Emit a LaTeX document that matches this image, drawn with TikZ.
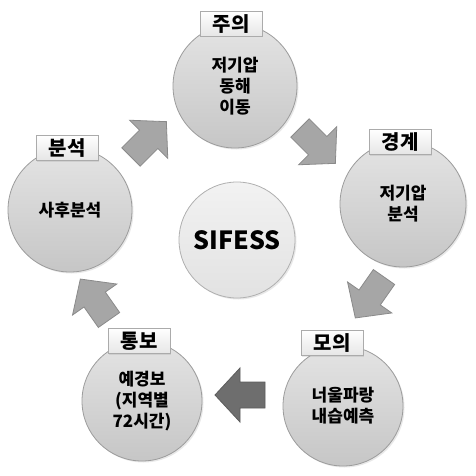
\documentclass[tikz,border=0pt]{standalone}
\usepackage{fontspec}
\newfontfamily\kr{Noto Sans CJK KR}
\usetikzlibrary{shadows}
\definecolor{circborder}{HTML}{9C9C9C}
\definecolor{circtop}{HTML}{E4E4E4}
\definecolor{circbot}{HTML}{C6C6C6}
\definecolor{midtop}{HTML}{F2F2F2}
\definecolor{midbot}{HTML}{E2E2E2}
\definecolor{labborder}{HTML}{ABABAB}
\definecolor{labbot}{HTML}{E6E6E6}
\definecolor{arrfill}{HTML}{A6A6A6}
\definecolor{arrdraw}{HTML}{8A8A8A}
\definecolor{darkfill}{HTML}{6E6E6E}
\definecolor{darkdraw}{HTML}{5C5C5C}
\begin{document}
\begin{tikzpicture}[x=1pt,y=-1pt,
  circ/.style={circle, draw=circborder, line width=0.8pt, top color=circtop, bottom color=circbot,
    minimum size=#1, inner sep=0pt, align=center,
    font=\kr\bfseries\fontsize{17}{21}\selectfont,
    drop shadow={opacity=0.18, shadow xshift=1.5pt, shadow yshift=-1.5pt}},
  midcirc/.style={circ=#1, draw=circborder!80, top color=midtop, bottom color=midbot,
    font=\kr\bfseries\fontsize{25}{30}\selectfont},
  lab/.style={rectangle, draw=labborder, line width=0.6pt, top color=white, bottom color=labbot,
    minimum width=62pt, minimum height=25pt, inner sep=0pt,
    font=\kr\bfseries\fontsize{20}{24}\selectfont,
    drop shadow={opacity=0.18, shadow xshift=1pt, shadow yshift=-1pt}},
  blockarrow/.style={fill=arrfill, draw=arrdraw, line width=0.8pt, line join=miter},
  darkarrow/.style={fill=darkfill, draw=darkdraw, line width=0.8pt, line join=miter}
]
\useasboundingbox[fill=white] (0,0) rectangle (475,476);

% circles
\node[circ=124pt] (jui) at (235,86) {저기압\\동해\\이동};
\node[circ=126pt] (gyeong) at (403,204) {저기압\\분석};
\node[circ=120pt] (moui) at (343,406) {너울파랑\\내습예측};
\node[circ=120pt] (tongbo) at (142,401) {예경보\\(지역별\\72시간)};
\node[circ=124pt] (bunseok) at (70,210) {사후분석};
\node[midcirc=116pt] (sifess) at (237,240) {SIFESS};

% labels
\node[lab] (ljui) at (231,24) {주의};
\node[lab] (lgyeong) at (400,142) {경계};
\node[lab] (lmoui) at (332,343) {모의};
\node[lab] (ltongbo) at (139,341) {통보};
\node[lab] (lbunseok) at (67,148) {분석};

% block arrows
\foreach \tx/\ty/\ang/\sty in {131/157/45/blockarrow, 300/128/-45/blockarrow, 384/277/-125/blockarrow, 265/395/180/darkarrow, 109/320/125/blockarrow}{
  \begin{scope}[shift={(\tx,\ty)}, rotate=\ang]
    \draw[\sty] (0,-13) -- (25,-13) -- (25,-27) -- (50,0) -- (25,27) -- (25,13) -- (0,13) -- cycle;
  \end{scope}
}
\end{tikzpicture}
\end{document}
